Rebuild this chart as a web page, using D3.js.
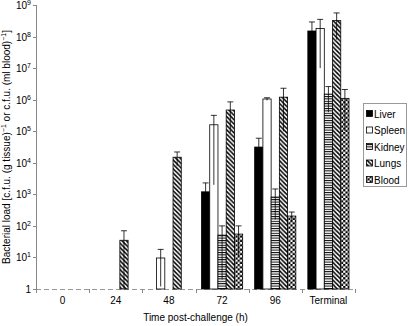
<!DOCTYPE html>
<html>
<head>
<meta charset="utf-8">
<script src="https://cdn.jsdelivr.net/npm/d3@7"></script>
<style>
  html, body { margin: 0; padding: 0; background: #fff; }
  svg { display: block; font-family: "Liberation Sans", Arial, sans-serif; }
</style>
</head>
<body>
<svg id="chart" width="408" height="326"></svg>
<script>
// ---- Data (value 1 = not detected) ----
const categories = ["0", "24", "48", "72", "96", "Terminal"];
const seriesNames = ["Liver", "Spleen", "Kidney", "Lungs", "Blood"];
const liver  = [1, 1, 1, 1200, 31500, 1.5e8];
const spleen = [1, 1, 9.6, 160000, 1.05e6, 1.8e8];
const kidney = [1, 1, 1, 51, 820, 1.5e6];
const lungs  = [1, 35, 15000, 470000, 1.2e6, 3.2e8];
const blood  = [1, 1, 1, 55, 205, 1.1e6];
const liverSd  = [0, 0, 0, 1100, 28500, 1.4e8];
const spleenSd = [0, 0, 8.4, 158000, 1.0e5, 1.7e8];
const kidneySd = [0, 0, 0, 49, 660, 1.1e6];
const lungsSd  = [0, 35, 7000, 380000, 1.1e6, 2.4e8];
const bloodSd  = [0, 0, 0, 45, 70, 1.0e6];
const yTickExponents = [0, 1, 2, 3, 4, 5, 6, 7, 8, 9];
const xTitle = "Time post-challenge (h)";

(function () {
const values = [liver, spleen, kidney, lungs, blood];
const sds = [liverSd, spleenSd, kidneySd, lungsSd, bloodSd];

const svg = d3.select("#chart");
const mLeft = 36, mRight = 355, mTop = 5, mBottom = 289;

const y = d3.scaleLog().domain([1, 1e9]).range([mBottom, mTop]);
const x0 = d3.scaleBand().domain(categories).range([mLeft, mRight]).padding(0);
const x1 = d3.scaleBand().domain(seriesNames).range([6, x0.bandwidth() - 6]).padding(0);

// ---- patterns ----
const defs = svg.append("defs");
const pK = defs.append("pattern").attr("id", "pKidney").attr("patternUnits", "userSpaceOnUse")
  .attr("width", 4).attr("height", 2.4);
pK.append("rect").attr("width", 4).attr("height", 2.4).attr("fill", "#fff");
pK.append("rect").attr("y", 0).attr("width", 4).attr("height", 1).attr("fill", "#000");
const pL = defs.append("pattern").attr("id", "pLungs").attr("patternUnits", "userSpaceOnUse")
  .attr("width", 4.4).attr("height", 4.4);
pL.append("rect").attr("width", 4.4).attr("height", 4.4).attr("fill", "#fff");
pL.append("path").attr("d", "M-1.1,-1.1 L5.5,5.5 M-1.1,3.3 L1.1,5.5 M3.3,-1.1 L5.5,1.1")
  .attr("stroke", "#000").attr("stroke-width", 1.5);
const pB = defs.append("pattern").attr("id", "pBlood").attr("patternUnits", "userSpaceOnUse")
  .attr("width", 4.4).attr("height", 4.4);
pB.append("rect").attr("width", 4.4).attr("height", 4.4).attr("fill", "#fff");
pB.append("rect").attr("x", 0).attr("y", 0).attr("width", 2.2).attr("height", 2.2).attr("fill", "#000");
pB.append("rect").attr("x", 2.2).attr("y", 2.2).attr("width", 2.2).attr("height", 2.2).attr("fill", "#000");

const fills = ["#000", "#fff", "url(#pKidney)", "url(#pLungs)", "url(#pBlood)"];

// ---- axes ----
svg.append("line").attr("x1", mLeft + 0.5).attr("x2", mLeft + 0.5)
  .attr("y1", mTop).attr("y2", mBottom).attr("stroke", "#888").attr("stroke-width", 1);
const yt = svg.append("g");
yTickExponents.forEach(e => {
  const yy = Math.round(y(Math.pow(10, e))) + 0.5;
  yt.append("line").attr("x1", mLeft - 3).attr("x2", mLeft).attr("y1", yy).attr("y2", yy)
    .attr("stroke", "#888");
  const t = yt.append("text").attr("x", 31).attr("y", yy + 3.5).attr("text-anchor", "end")
    .attr("font-size", 10).attr("fill", "#000");
  if (e === 0) {
    t.text("1");
  } else {
    t.append("tspan").text("10");
    t.append("tspan").attr("font-size", 7).attr("dy", -4).text(e);
  }
});

svg.append("line").attr("x1", mLeft).attr("x2", mRight)
  .attr("y1", mBottom + 0.5).attr("y2", mBottom + 0.5)
  .attr("stroke", "#999").attr("stroke-dasharray", "5,3");
const xt = svg.append("g");
categories.concat(["__end"]).forEach((c, i) => {
  const xx = (i < categories.length ? x0(c) : mRight);
  xt.append("line").attr("x1", Math.round(xx) + 0.5).attr("x2", Math.round(xx) + 0.5)
    .attr("y1", mBottom).attr("y2", mBottom + 4).attr("stroke", "#888");
});
categories.forEach(c => {
  xt.append("text").attr("x", x0(c) + x0.bandwidth() / 2).attr("y", mBottom + 15)
    .attr("text-anchor", "middle").attr("font-size", 10).text(c);
});

// ---- bars ----
const barsG = svg.append("g");
const errG = svg.append("g");
categories.forEach((c, ci) => {
  seriesNames.forEach((s, si) => {
    const v = values[si][ci];
    if (v <= 1) return;
    const bx = x0(c) + x1(s);
    const bw = x1.bandwidth();
    barsG.append("rect")
      .attr("x", bx).attr("y", y(v))
      .attr("width", bw).attr("height", y(1) - y(v))
      .attr("fill", fills[si]).attr("stroke", "#000").attr("stroke-width", 0.8);
    const sd = sds[si][ci];
    if (sd > 0) {
      const hi = v + sd;
      const lo = Math.max(1, v - sd);
      const cx = bx + bw / 2;
      errG.append("line").attr("x1", cx).attr("x2", cx)
        .attr("y1", y(hi)).attr("y2", y(lo)).attr("stroke", "#000").attr("stroke-width", 0.8);
      errG.append("line").attr("x1", cx - 3).attr("x2", cx + 3)
        .attr("y1", y(hi)).attr("y2", y(hi)).attr("stroke", "#000").attr("stroke-width", 0.8);
    }
  });
});

// ---- titles ----
svg.append("text").attr("x", (mLeft + mRight) / 2).attr("y", 321)
  .attr("text-anchor", "middle").attr("font-size", 10).text(xTitle);

const yTitle = svg.append("text")
  .attr("transform", `translate(10,${(mTop + mBottom) / 2}) rotate(-90)`)
  .attr("text-anchor", "middle").attr("font-size", 10);
yTitle.append("tspan").text("Bacterial load [c.f.u. (g tissue)");
yTitle.append("tspan").attr("font-size", 7).attr("dy", -4).text("\u22121");
yTitle.append("tspan").attr("dy", 4).text(" or c.f.u. (ml blood)");
yTitle.append("tspan").attr("font-size", 7).attr("dy", -4).text("\u22121");
yTitle.append("tspan").attr("dy", 4).text("]");

// ---- legend ----
const lg = svg.append("g");
lg.append("rect").attr("x", 363.5).attr("y", 103.5).attr("width", 43).attr("height", 83)
  .attr("fill", "#fff").attr("stroke", "#999");
seriesNames.forEach((s, i) => {
  const ly = 114 + i * 16.5;
  lg.append("rect").attr("x", 366.5).attr("y", ly - 3.5).attr("width", 6).attr("height", 6)
    .attr("fill", fills[i]).attr("stroke", "#000").attr("stroke-width", 0.8);
  lg.append("text").attr("x", 374).attr("y", ly + 3.5).attr("font-size", 10).text(s);
});
})();
</script>
</body>
</html>
